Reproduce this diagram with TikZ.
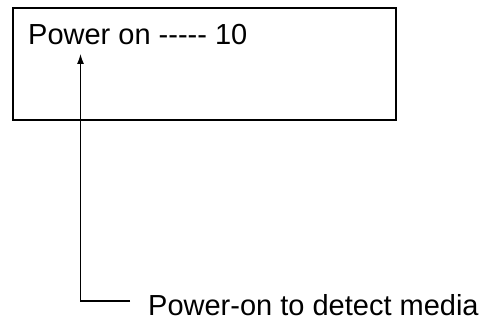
\documentclass[tikz,border=0pt]{standalone}
\usepackage{fontspec}
\setmainfont{Liberation Sans}[Ligatures=ResetAll]
\usetikzlibrary{arrows.meta}
\begin{document}
\begin{tikzpicture}[x=1pt,y=-1pt,
  txt/.style={anchor=base west,inner sep=0pt,font=\fontsize{29}{34}\selectfont},
  frame/.style={draw=black,line width=2pt},
  conn/.style={draw=black,line width=1.3pt,-{Latex[length=10pt,width=7pt]}}]
\useasboundingbox (0,0) rectangle (495,323);
\draw[frame] (12.5,8) rectangle (396,120);
\node[txt] (title) at (28,45) {Power on -{}-{}-{}-{}- 10};
\node[txt] (label) at (148,315) {Power-on to detect media};
\coordinate (start) at (130,301);
\coordinate (corner) at (80.5,301);
\coordinate (tip) at (80.5,54);
\draw[conn] (start) -- (corner) -- (tip);
\end{tikzpicture}
\end{document}
